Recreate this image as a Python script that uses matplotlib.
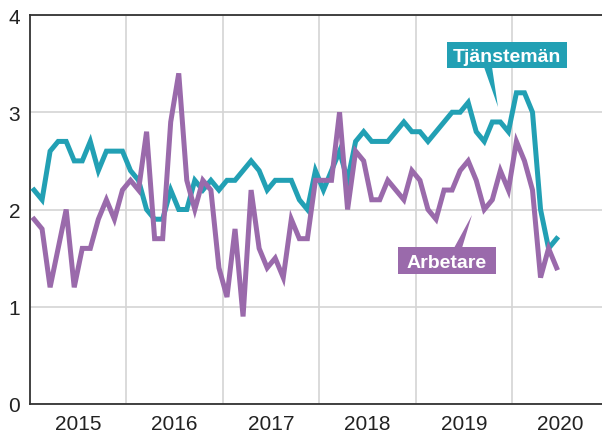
import matplotlib
matplotlib.use("Agg")
import matplotlib.pyplot as plt
from matplotlib.patches import Rectangle, Polygon
import numpy as np

plt.rcParams['font.family'] = ['Liberation Sans', 'DejaVu Sans']

years = ["2015", "2016", "2017", "2018", "2019", "2020"]
series_names = ["Tjänstemän", "Arbetare"]

tjanstemann = [2.2, 2.1, 2.6, 2.7, 2.7, 2.5, 2.5, 2.7, 2.4, 2.6, 2.6, 2.6,
               2.4, 2.3, 2.0, 1.9, 1.9, 2.2, 2.0, 2.0, 2.3, 2.2, 2.3, 2.2,
               2.3, 2.3, 2.4, 2.5, 2.4, 2.2, 2.3, 2.3, 2.3, 2.1, 2.0, 2.4,
               2.2, 2.4, 2.6, 2.3, 2.7, 2.8, 2.7, 2.7, 2.7, 2.8, 2.9, 2.8,
               2.8, 2.7, 2.8, 2.9, 3.0, 3.0, 3.1, 2.8, 2.7, 2.9, 2.9, 2.8,
               3.2, 3.2, 3.0, 2.0, 1.6, 1.7]

arbetare = [1.9, 1.8, 1.2, 1.6, 2.0, 1.2, 1.6, 1.6, 1.9, 2.1, 1.9, 2.2,
            2.3, 2.2, 2.8, 1.7, 1.7, 2.9, 3.4, 2.3, 2.0, 2.3, 2.2, 1.4,
            1.1, 1.8, 0.9, 2.2, 1.6, 1.4, 1.5, 1.3, 1.9, 1.7, 1.7, 2.3,
            2.3, 2.3, 3.0, 2.0, 2.6, 2.5, 2.1, 2.1, 2.3, 2.2, 2.1, 2.4,
            2.3, 2.0, 1.9, 2.2, 2.2, 2.4, 2.5, 2.3, 2.0, 2.1, 2.4, 2.2,
            2.7, 2.5, 2.2, 1.3, 1.6, 1.4]

TEAL = "#22a0b4"
PURPLE = "#9a6aab"

fig = plt.figure(figsize=(6.02, 4.35), dpi=100)
ax = fig.add_axes([30/602, 30/435, 572/602, 389/435])

months = np.arange(len(tjanstemann)) + 0.5
ax.plot(months, tjanstemann, color=TEAL, lw=3.6, solid_joinstyle='miter', zorder=3)
ax.plot(months, arbetare, color=PURPLE, lw=3.6, solid_joinstyle='miter', zorder=3)

ax.set_xlim(0, 572/8.04)
ax.set_ylim(0, 4)
ax.set_yticks([0, 1, 2, 3, 4])
ax.set_xticks(np.arange(12, 72, 12))
ax.set_xticklabels([])
ax.set_xticks(np.arange(len(years)) * 12 + 6, minor=True)
ax.set_xticklabels(years, minor=True)
ax.tick_params(axis='both', which='both', length=0, labelsize=15, colors='#222222')
ax.tick_params(axis='y', pad=7)
ax.tick_params(axis='x', which='minor', pad=7)
ax.grid(True, which='major', color='#d4d4d4', lw=1.2, zorder=0)
for s in ['left', 'bottom', 'top']:
    ax.spines[s].set_color('#333333')
    ax.spines[s].set_linewidth(1.3)
ax.spines['right'].set_visible(False)

def px2d(xp, yp):
    return ((xp - 30) / 8.04, (405 - yp) / 97.25)

def callout(text, color, box, wedge):
    x0, y0 = px2d(box[0], box[3])
    x1, y1 = px2d(box[2], box[1])
    ax.add_patch(Rectangle((x0, y0), x1 - x0, y1 - y0, facecolor=color,
                           edgecolor='none', zorder=5, clip_on=False))
    ax.add_patch(Polygon([px2d(*p) for p in wedge], closed=True,
                         facecolor=color, edgecolor='none', zorder=5, clip_on=False))
    ax.text((x0 + x1) / 2, (y0 + y1) / 2, text, color='white', fontsize=14,
            fontweight='bold', ha='center', va='center_baseline', zorder=6)

callout(series_names[0], TEAL, (447, 43, 567, 69),
        [(484, 68), (492, 68), (498, 108)])
callout(series_names[1], PURPLE, (398, 248, 496, 275),
        [(454, 249), (462, 249), (472, 216)])

fig.savefig("out.png", dpi=100)
